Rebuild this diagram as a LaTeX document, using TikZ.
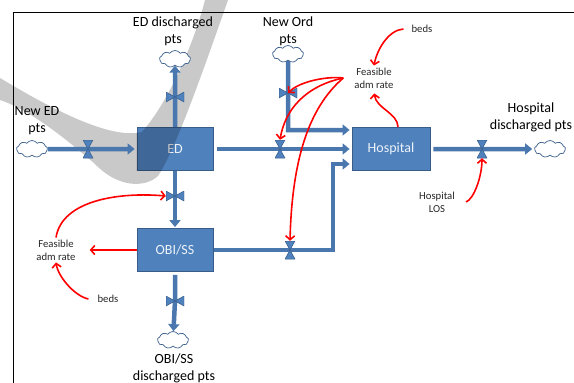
\documentclass[tikz,border=0pt]{standalone}
\usepackage{fontspec}
\setmainfont{Carlito}
\usepackage{xcolor}
\usetikzlibrary{arrows.meta,positioning,shapes.symbols,backgrounds}
\definecolor{pipeblue}{HTML}{4F81BD}
\definecolor{pipedark}{HTML}{385D8A}
\definecolor{bandgray}{HTML}{C9C9C9}
\newcommand{\bandpath}{(228,0) .. controls (200,80) and (175,150) .. (158,176) .. controls (145,188) and (118,188) .. (95,164) .. controls (65,138) and (30,110) .. (0,100) -- (0,78) .. controls (50,108) and (110,140) .. (142,132) .. controls (170,100) and (195,40) .. (205,0) -- cycle}

\begin{document}
\begin{tikzpicture}[x=1pt,y=-1pt,
  stock/.style={draw=pipedark,fill=pipeblue,line width=0.8pt,text=white!90!pipeblue,minimum width=76pt,minimum height=43pt,inner sep=0pt,font=\fontsize{14}{17}\selectfont},
  sink/.style={cloud,cloud puffs=9,cloud puff arc=110,cloud ignores aspect,minimum width=31pt,minimum height=17pt,inner sep=0pt,draw=pipedark,fill=white,line width=0.7pt},
  big/.style={align=center,inner sep=1pt,font=\fontsize{14}{17}\selectfont},
  small/.style={align=center,inner sep=2pt,text=black!85,font=\fontsize{10.7}{13}\selectfont},
  vvalve/.style={minimum width=10pt,minimum height=18pt,inner sep=0pt,
    path picture={\fill[pipeblue,draw=pipedark,line width=0.5pt] (path picture bounding box.north west) -- (path picture bounding box.north east) -- (path picture bounding box.south west) -- (path picture bounding box.south east) -- cycle;}},
  hvalve/.style={minimum width=18pt,minimum height=10pt,inner sep=0pt,
    path picture={\fill[pipeblue,draw=pipedark,line width=0.5pt] (path picture bounding box.north west) -- (path picture bounding box.south west) -- (path picture bounding box.north east) -- (path picture bounding box.south east) -- cycle;}},
  pipe/.style={draw=pipeblue!92!black,line width=4.5pt,line join=miter,-{Triangle[length=7pt,width=11pt]}},
  flow/.style={draw=red,line width=1.6pt,-{Straight Barb[length=4pt,width=9pt]}}]
\useasboundingbox (0,0) rectangle (574,383);
\draw[line width=1pt] (13,383) -- (13,12) -- (574,12);

\node[stock] (ed)   at (175,149) {ED};
\node[stock,minimum width=78pt] (hosp) at (391,149) {Hospital};
\node[stock] (obi)  at (175,250) {OBI/SS};
\begin{scope}
  \clip (ed.south west) rectangle (ed.north east);
  \fill[black,opacity=.2] \bandpath;
\end{scope}

\node[sink] (cNewED)   at (32,149) {};
\node[sink] (cEDdis)   at (175,59) {};
\node[sink] (cNewOrd)  at (288,54) {};
\node[sink] (cHospDis) at (550,149) {};
\node[sink] (cOBIdis)  at (173,340) {};

\node[big] (lNewED)   at (37,121)  {New ED\\pts};
\node[big] (lEDdis)   at (173,31)  {ED discharged\\pts};
\node[big] (lNewOrd)  at (288,31)  {New Ord\\pts};
\node[big] (lHospDis) at (531,117) {Hospital\\discharged pts};
\node[big] (lOBIdis)  at (174,368) {OBI/SS\\discharged pts};

\node[small] (lFeasTop)  at (374,78)  {Feasible\\adm rate};
\node[small] (lBedsTop)  at (422,29)  {beds};
\node[small] (lLOS)      at (437,202) {Hospital\\LOS};
\node[small] (lFeasLeft) at (56,250)  {Feasible\\adm rate};
\node[small] (lBedsLeft) at (108,299) {beds};

\node[vvalve] (vNewED)   at (88,149)  {};
\node[hvalve] (vEDdis)   at (175,97)  {};
\node[hvalve] (vEDobi)   at (175,196) {};
\node[vvalve] (vEDhosp)  at (280,149) {};
\node[hvalve] (vNewOrd)  at (288,93)  {};
\node[vvalve] (vOBIhosp) at (290,250) {};
\node[hvalve] (vOBIdis)  at (175,301) {};
\node[vvalve] (vHospDis) at (482,149) {};

\coordinate (kOrd)  at (288,130);
\coordinate (kObiR) at (333,250);
\coordinate (kObiU) at (333,164);
\coordinate (fOut)  at ([xshift=-9pt]lFeasTop.west);

\begin{scope}[on background layer]
\fill[bandgray] \bandpath;
\draw[pipe,shorten >=2pt] (cNewED) -- (vNewED.center) -- (ed);
\draw[pipe] (ed) -- (vEDdis.center) -- (cEDdis);
\draw[pipe,shorten >=1pt] (ed) -- (vEDobi.center) -- (obi);
\draw[pipe,shorten <=4pt,shorten >=2pt] (ed) -- (vEDhosp.center) -- (hosp);
\draw[pipe,shorten >=2pt] (cNewOrd) -- (vNewOrd.center) -- (kOrd) -- (hosp.west |- kOrd);
\draw[pipe,shorten >=2pt] (obi) -- (vOBIhosp.center) -- (kObiR) -- (kObiU) -- (hosp.west |- kObiU);
\draw[pipe,shorten <=3pt] (obi) -- (vOBIdis.center) -- (cOBIdis);
\draw[pipe,shorten <=3pt,shorten >=2pt] (hosp) -- (vHospDis.center) -- (cHospDis);
\end{scope}

\draw[flow] ([xshift=-6pt]lBedsTop.west) .. controls +(-15,1) and +(3,-16) .. (lFeasTop.north);
\draw[flow,shorten >=3pt] ([xshift=7pt]hosp.north) .. controls +(0,-14) and +(2,18) .. (lFeasTop.south);
\draw[flow] (fOut) .. controls +(-15,-2) and +(12,-12) .. (vNewOrd.center);
\draw[flow] (fOut) .. controls +(-38,8) and +(5,-30) .. (vEDhosp.north);
\draw[flow] (fOut) .. controls +(-35,30) and +(2,-80) .. (vOBIhosp.north);
\draw[flow] ([xshift=9pt]lLOS.east) .. controls +(8,-3) and +(0,18) .. (vHospDis.south);
\draw[flow] (lFeasLeft.north) .. controls +(6,-38) and +(-45,-4) .. (vEDobi.west);
\draw[flow,shorten >=12pt] (obi.west) -- (lFeasLeft.east);
\draw[flow] ([xshift=-7pt]lBedsLeft.west) .. controls +(-14,-3) and +(2,14) .. (lFeasLeft.south);
\end{tikzpicture}
\end{document}
